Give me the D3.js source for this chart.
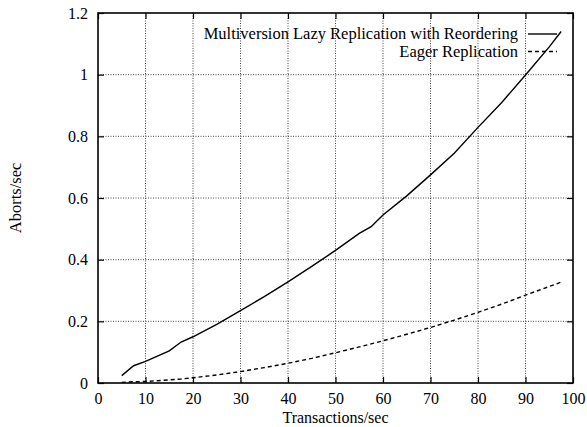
<!DOCTYPE html>
<html>
<head>
<meta charset="utf-8">
<script src="https://cdn.jsdelivr.net/npm/d3@7"></script>
<style>
  body { margin: 0; background: #fff; }
  svg text { font-family: 'Liberation Serif', 'Times New Roman', serif; fill: #000; }
</style>
</head>
<body>
<div id="chart"></div>
<script>
// values
const txRate = [5, 7.5, 10, 15, 17.5, 20, 25, 30, 35, 40, 45, 50, 55, 57.5, 60, 65, 70, 75, 80, 85, 90, 95, 97.5]
const lazyAborts = [0.024, 0.056, 0.07, 0.104, 0.133, 0.15, 0.19, 0.235, 0.28, 0.328, 0.378, 0.43, 0.485, 0.507, 0.545, 0.607, 0.675, 0.745, 0.829, 0.91, 0.999, 1.09, 1.14]
const eagerAborts = [0.002, 0.004, 0.005, 0.01, 0.013, 0.017, 0.026, 0.037, 0.05, 0.064, 0.08, 0.098, 0.117, 0.127, 0.137, 0.158, 0.18, 0.204, 0.229, 0.256, 0.285, 0.313, 0.327]
const xTicks = [0, 10, 20, 30, 40, 50, 60, 70, 80, 90, 100]
const yTicks = [0, 0.2, 0.4, 0.6, 0.8, 1, 1.2]
const seriesNames = ['Multiversion Lazy Replication with Reordering', 'Eager Replication']

const W = 587
const H = 427
const margin = { top: 13, right: 14, bottom: 44, left: 98 }
const width = W - margin.left - margin.right
const height = H - margin.top - margin.bottom
const fs = 16.5
const tickFs = 16

const svg = d3.select('#chart').append('svg')
  .attr('width', W)
  .attr('height', H)

const g = svg.append('g')
  .attr('transform', 'translate(' + margin.left + ',' + margin.top + ')')

const x = d3.scaleLinear().domain([0, 100]).range([0, width])
const y = d3.scaleLinear().domain([0, 1.2]).range([height, 0])

// grid
g.append('g').selectAll('line')
  .data(xTicks.slice(1, -1))
  .enter().append('line')
  .attr('x1', d => x(d)).attr('x2', d => x(d))
  .attr('y1', 0).attr('y2', height)
  .attr('stroke', '#444').attr('stroke-width', 1)
  .attr('stroke-dasharray', '1,1.5')

g.append('g').selectAll('line')
  .data(yTicks.slice(1, -1))
  .enter().append('line')
  .attr('y1', d => y(d)).attr('y2', d => y(d))
  .attr('x1', 0).attr('x2', width)
  .attr('stroke', '#444').attr('stroke-width', 1)
  .attr('stroke-dasharray', '1,1.5')

// axes: inward ticks, mirrored
const tk = 6
g.append('g').attr('transform', 'translate(0,' + height + ')')
  .call(d3.axisBottom(x).tickValues(xTicks).tickSize(-tk).tickPadding(10).tickFormat(d3.format('d')))
g.append('g')
  .call(d3.axisTop(x).tickValues(xTicks).tickSize(-tk).tickFormat(''))
g.append('g')
  .call(d3.axisLeft(y).tickValues(yTicks).tickSize(-tk).tickPadding(10).tickFormat(d => d3.format('')(+d.toFixed(1))))
g.append('g').attr('transform', 'translate(' + width + ',0)')
  .call(d3.axisRight(y).tickValues(yTicks).tickSize(-tk).tickFormat(''))

g.selectAll('.domain').remove()
g.selectAll('.tick line').attr('stroke', '#000').attr('stroke-width', 1.2)
g.selectAll('.tick text').attr('font-size', tickFs).attr('font-family', "'Liberation Serif', serif")

g.append('rect')
  .attr('width', width).attr('height', height)
  .attr('fill', 'none').attr('stroke', '#000').attr('stroke-width', 1.6)

// curves
const line = d3.line().x(d => x(d[0])).y(d => y(d[1]))
g.append('path')
  .datum(txRate.map((t, i) => [t, lazyAborts[i]]))
  .attr('d', line)
  .attr('fill', 'none').attr('stroke', '#000').attr('stroke-width', 1.4)
g.append('path')
  .datum(txRate.map((t, i) => [t, eagerAborts[i]]))
  .attr('d', line)
  .attr('fill', 'none').attr('stroke', '#000').attr('stroke-width', 1.4)
  .attr('stroke-dasharray', '4,3')

// key
const key = g.append('g').attr('transform', 'translate(420,0)')
const keyRows = key.selectAll('g').data(seriesNames).enter().append('g')
  .attr('transform', (d, i) => 'translate(0,' + (21 + i * 17.5) + ')')
keyRows.append('text')
  .attr('text-anchor', 'end').attr('dy', '0.33em')
  .attr('font-size', fs)
  .text(d => d)
keyRows.append('line')
  .attr('x1', 10).attr('x2', 39)
  .attr('stroke', '#000').attr('stroke-width', 1.4)
  .attr('stroke-dasharray', (d, i) => i ? '4,3' : null)

// axis titles
svg.append('text')
  .attr('x', margin.left + width / 2).attr('y', 423)
  .attr('text-anchor', 'middle').attr('font-size', 16)
  .text('Transactions/sec')
svg.append('text')
  .attr('transform', 'translate(21,' + (margin.top + height / 2) + ') rotate(-90)')
  .attr('text-anchor', 'middle').attr('font-size', fs)
  .text('Aborts/sec')
</script>
</body>
</html>
